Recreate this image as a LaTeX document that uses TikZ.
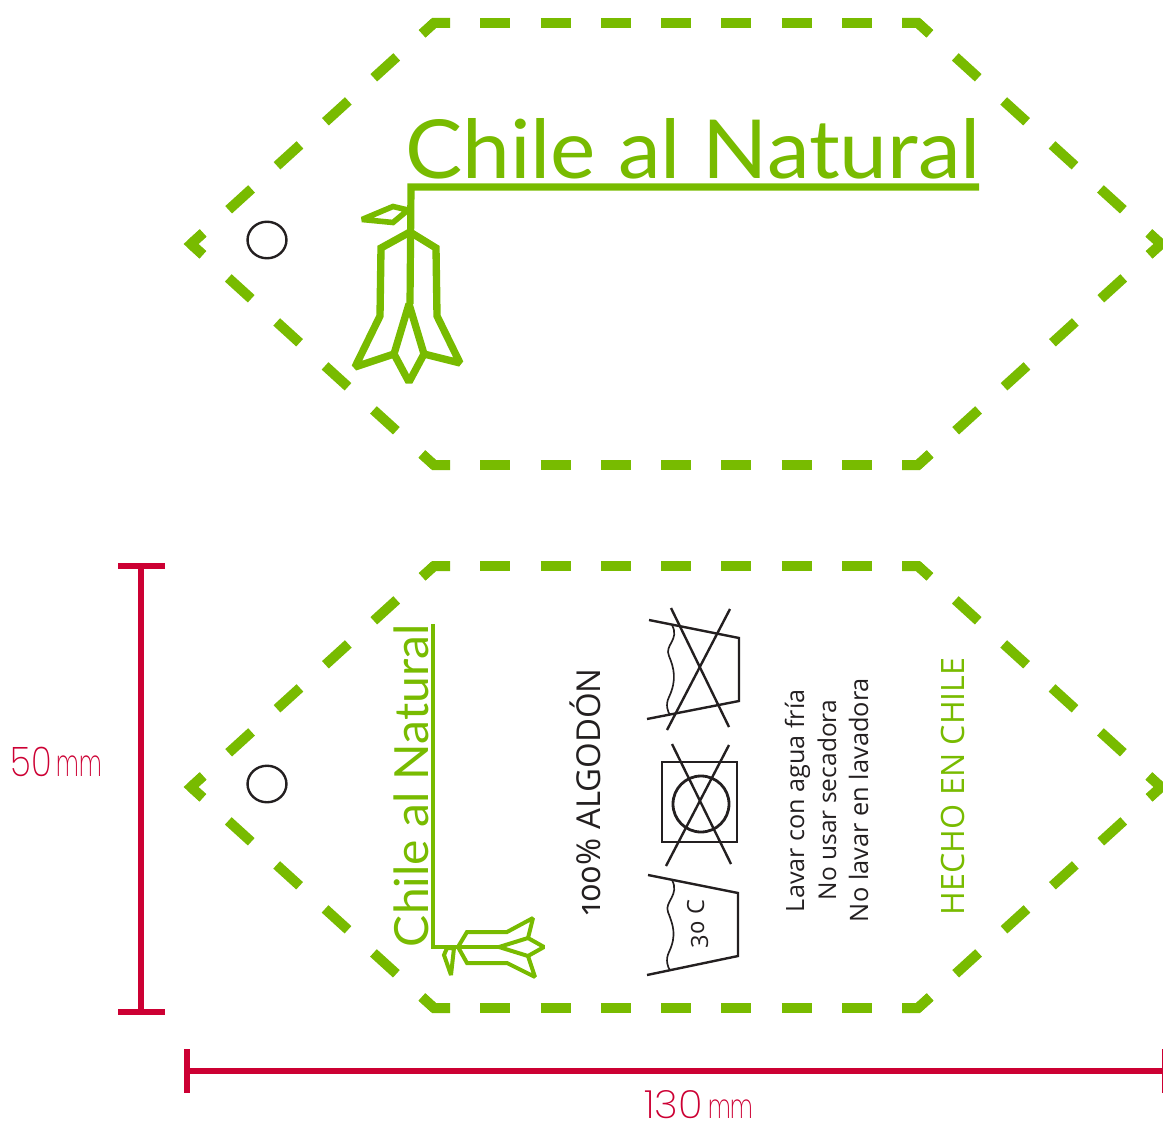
\documentclass[tikz,border=0pt]{standalone}
\usepackage{fontspec}
\usepackage{graphicx}
\setmainfont{Open Sans}
\newfontfamily\titlefont{Lato}
\newfontfamily\oldfont[Numbers=OldStyle]{Open Sans}
\newfontfamily\dimfont[UprightFont={* ExtraLight}]{Poppins}
\definecolor{tagGreen}{HTML}{78BB00}
\definecolor{dimRed}{HTML}{CC0033}
\definecolor{inkBlack}{HTML}{231F20}
\tikzset{
  stitch/.style={draw=tagGreen,line width=7.5pt,line cap=butt,miter limit=10},
  sidediag/.style={stitch,dash pattern=on 23.25pt off 25.8pt,dash phase=11.25pt},
  sideflat/.style={stitch,dash pattern=on 22.5pt off 22.7pt,dash phase=10.5pt},
  logoA/.style={draw=tagGreen,line width=5.5pt,miter limit=2},
  logoB/.style={draw=tagGreen,line width=3pt,miter limit=2},
  ink/.style={draw=inkBlack,line width=1.8pt},
  wave/.style={draw=inkBlack,line width=1.25pt},
  dimline/.style={draw=dimRed,line width=3.8pt},
  lbl/.style={inner sep=0pt,outer sep=0pt,anchor=base west},
}
\newcommand{\tagoutline}[1]{%
  \begin{scope}[yshift=#1*-0.75pt]
    \draw[sideflat] (434,23) -- (918,23);
    \draw[sideflat] (434,465) -- (918,465);
    \draw[sidediag] (918,23) -- (1161,244);
    \draw[sidediag] (1161,244) -- (918,465);
    \draw[sidediag] (434,23) -- (191,244);
    \draw[sidediag] (191,244) -- (434,465);
    \draw[stitch] (902,23) -- (918,23) -- (929.8,33.8);
    \draw[stitch] (450,23) -- (434,23) -- (422.2,33.8);
    \draw[stitch] (902,465) -- (918,465) -- (929.8,454.2);
    \draw[stitch] (450,465) -- (434,465) -- (422.2,454.2);
    \draw[stitch] (202.8,233.2) -- (191,244) -- (202.8,254.8);
    \draw[stitch] (1149.2,233.2) -- (1161,244) -- (1149.2,254.8);
  \end{scope}}
\begin{document}
\begin{tikzpicture}[x=.75pt,y=-.75pt]
\useasboundingbox (0,0) rectangle (1163,1124);
\tagoutline{0}
\tagoutline{543}
% eyelets
\draw[ink] (267,240) ellipse [x radius=14.6pt,y radius=13.7pt];
\draw[ink] (267,784) ellipse [x radius=14.6pt,y radius=13.7pt];
% top logo
\node[lbl,text=tagGreen] (titleA) at (405,178) {\resizebox{432pt}{45pt}{\titlefont Chile al Natural}};
\draw[draw=tagGreen,line width=5.4pt] (979,187) -- (411,187) -- (410,304);
\draw[logoA,line width=4.2pt] (362,219.5) -- (393,206.5) -- (408,210) -- (393,222.5) -- cycle;
\draw[logoA] (410,232) -- (381,248) -- (380,316) -- (355,367) -- (394,354) -- (409,304) -- (424,354) -- (460,363) -- (437,316) -- (436,248) -- cycle;
\draw[logoA] (394,354) -- (409,382) -- (424,354);
% bottom logo
\node[lbl,text=tagGreen,rotate=90] (titleB) at (428,947) {\resizebox{242pt}{26pt}{\titlefont Chile al Natural}};
\draw[draw=tagGreen,line width=3pt] (433,624) -- (433,947) -- (499,947);
\draw[logoB] (458,947) -- (467,932) -- (507,932) -- (533,918) -- (528,938) -- (499,947) -- (528,956) -- (535,977) -- (507,963) -- (467,963) -- cycle;
\draw[logoB] (528,938) -- (544,947) -- (528,956);
\draw[logoB] (454,948) -- (447,948) -- (444,955) -- (451,975) -- cycle;
% texts
\node[lbl,text=inkBlack,rotate=90] (cotton) at (600,915) {\resizebox{185pt}{!}{\oldfont 100\% ALGODÓN}};
\node[lbl,text=inkBlack,rotate=90] (careA) at (804,912) {\resizebox{167pt}{!}{Lavar con agua fría}};
\node[lbl,text=inkBlack,rotate=90] (careB) at (836,900) {\resizebox{150pt}{!}{No usar secadora}};
\node[lbl,text=inkBlack,rotate=90] (careC) at (868,922) {\resizebox{183pt}{!}{No lavar en lavadora}};
\node[lbl,text=tagGreen,rotate=90] (origin) at (964,915) {\resizebox{193pt}{!}{HECHO EN CHILE}};
% symbols
\draw[ink] (649,620) -- (739,638) -- (739,701) -- (647,719);
\draw[ink] (671,608) -- (729,727);
\draw[ink] (730,609) -- (667,730);
\draw[wave] (672,625) .. controls (680,640) and (664,645) .. (669,656) .. controls (674,668) and (677,680) .. (669,697) .. controls (665,705) and (668,712) .. (670,715);
\draw[ink,line width=2.1pt] (662,762) rectangle (737,842);
\draw[ink,line width=2.1pt] (701,804) circle [radius=21pt];
\draw[ink] (672,744) -- (731,864);
\draw[ink] (729,745) -- (666,866);
\draw[ink] (648,875) -- (738,893) -- (738,956) -- (647,975);
\draw[wave] (672,880) .. controls (680,895) and (664,902) .. (668,912) .. controls (673,925) and (677,935) .. (669,952) .. controls (665,960) and (668,968) .. (670,970);
\node[lbl,text=inkBlack,rotate=90] (temp) at (704,948) {\resizebox{36pt}{!}{\oldfont 30 C}};
% dimensions
\draw[dimline] (141,566) -- (141,1012);
\draw[dimline] (118,566) -- (165,566);
\draw[dimline] (118,1012) -- (165,1012);
\draw[dimline] (187,1071) -- (1163,1071);
\draw[dimline] (187,1049) -- (187,1093);
\draw[dimline,line width=1.5pt] (1162.5,1049) -- (1162.5,1093);
\node[lbl,text=dimRed] (dimH) at (11,776) {\dimfont\resizebox{31pt}{22pt}{50}\hspace{3pt}\resizebox{34pt}{15.5pt}{mm}};
\node[lbl,text=dimRed] (dimW) at (644,1118) {\dimfont\resizebox{44pt}{21pt}{130}\hspace{4pt}\resizebox{34pt}{14pt}{mm}};
\end{tikzpicture}
\end{document}
